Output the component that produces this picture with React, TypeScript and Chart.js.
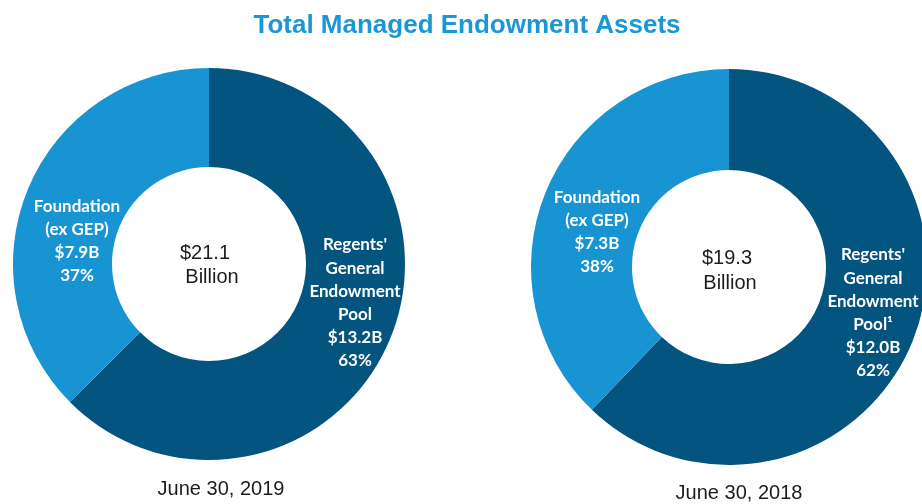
import { useEffect, useRef } from "react";
import { Chart, registerables } from "chart.js";

Chart.register(...registerables);

const chartTitle = "Total Managed Endowment Assets";
const segmentNames = ["Regents' General Endowment Pool", "Foundation (ex GEP)"];
const values2019 = [13.2, 7.9];
const values2018 = [12.0, 7.3];
const totals = ["$21.1", "$19.3"];
const dates = ["June 30, 2019", "June 30, 2018"];
const labels2019 = [
  ["Regents'", "General", "Endowment", "Pool", "$13.2B", "63%"],
  ["Foundation", "(ex GEP)", "$7.9B", "37%"],
];
const labels2018 = [
  ["Regents'", "General", "Endowment", "Pool\u00B9", "$12.0B", "62%"],
  ["Foundation", "(ex GEP)", "$7.3B", "38%"],
];

const DARK = "#03547f";
const LIGHT = "#1894d2";
const TITLE_COLOR = "#1a97d6";
const TEXT_COLOR = "#1c1c1c";

type Layout = {
  padding: { left: number; right: number; top: number; bottom: number };
  cutout: string;
  blocks: { dx: number; dy: number }[];
  total: { dx: number; dy: number; dx2: number; dy2: number };
  date: { dx: number; dy: number };
  drawTitle: boolean;
};

const layouts: Layout[] = [
  {
    padding: { left: 13, right: 535, top: 68, bottom: 44 },
    cutout: "49.5%",
    blocks: [
      { dx: 146, dy: 39 },
      { dx: -132, dy: -23 },
    ],
    total: { dx: -4, dy: -11, dx2: 3, dy2: 13 },
    date: { dx: 12, dy: 225 },
    drawTitle: true,
  },
  {
    padding: { left: 531, right: 13, top: 69, bottom: 39 },
    cutout: "49%",
    blocks: [
      { dx: 144, dy: 46 },
      { dx: -132, dy: -35 },
    ],
    total: { dx: -2, dy: -9, dx2: 1, dy2: 16 },
    date: { dx: 10, dy: 226 },
    drawTitle: false,
  },
];

function makeChart(
  canvas: HTMLCanvasElement,
  values: number[],
  lines: string[][],
  total: string,
  date: string,
  lay: Layout
) {
  const textPlugin = {
    id: "textPlugin" + date,
    afterDraw(chart: any) {
      const ctx = chart.ctx as CanvasRenderingContext2D;
      const arc = chart.getDatasetMeta(0).data[0];
      const cx = arc.x;
      const cy = arc.y;
      ctx.save();
      ctx.textAlign = "center";
      ctx.textBaseline = "middle";
      // slice labels
      ctx.fillStyle = "#ffffff";
      ctx.font = "bold 17px Lato, 'Noto Sans', sans-serif";
      const lh = 23.2;
      lines.forEach((blk, i) => {
        const b = lay.blocks[i];
        const startY = cy + b.dy - ((blk.length - 1) * lh) / 2;
        blk.forEach((t, j) => {
          ctx.fillText(t, cx + b.dx, startY + j * lh);
        });
      });
      // center total
      ctx.fillStyle = TEXT_COLOR;
      ctx.font = "20px 'Liberation Sans', Arial, sans-serif";
      ctx.fillText(total, cx + lay.total.dx, cy + lay.total.dy);
      ctx.fillText("Billion", cx + lay.total.dx2, cy + lay.total.dy2);
      // date
      ctx.font = "20px 'Liberation Sans', Arial, sans-serif";
      ctx.fillText(date, cx + lay.date.dx, cy + lay.date.dy);
      if (lay.drawTitle) {
        ctx.fillStyle = TITLE_COLOR;
        ctx.font = "bold 26px 'Liberation Sans', Arial, sans-serif";
        ctx.textBaseline = "alphabetic";
        ctx.fillText(chartTitle, 467, 33);
      }
      ctx.restore();
    },
  };

  return new Chart(canvas, {
    type: "doughnut",
    data: {
      labels: segmentNames,
      datasets: [
        {
          data: values,
          backgroundColor: [DARK, LIGHT],
          borderWidth: 0,
          hoverOffset: 0,
        },
      ],
    },
    options: {
      responsive: false,
      animation: false,
      devicePixelRatio: 1,
      cutout: lay.cutout,
      rotation: 0,
      events: [],
      layout: { padding: lay.padding },
      plugins: {
        legend: { display: false },
        tooltip: { enabled: false },
        title: { display: false },
      },
    },
    plugins: [textPlugin],
  });
}

export default function App() {
  const ref1 = useRef<HTMLCanvasElement>(null);
  const ref2 = useRef<HTMLCanvasElement>(null);

  useEffect(() => {
    const c1 = makeChart(ref1.current!, values2019, labels2019, totals[0], dates[0], layouts[0]);
    const c2 = makeChart(ref2.current!, values2018, labels2018, totals[1], dates[1], layouts[1]);
    return () => {
      c1.destroy();
      c2.destroy();
    };
  }, []);

  const canvasStyle: React.CSSProperties = {
    position: "absolute",
    left: 0,
    top: 0,
    width: 940,
    height: 504,
  };

  return (
    <div
      style={{
        position: "fixed",
        left: 0,
        top: 0,
        width: 922,
        height: 504,
        overflow: "hidden",
        background: "#ffffff",
      }}
    >
      <canvas ref={ref1} width={940} height={504} style={canvasStyle} />
      <canvas ref={ref2} width={940} height={504} style={canvasStyle} />
    </div>
  );
}
